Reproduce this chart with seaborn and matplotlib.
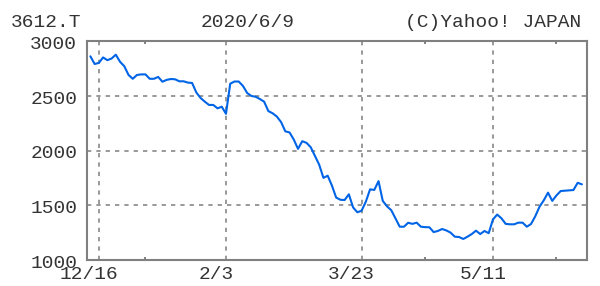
import numpy as np
import pandas as pd
import matplotlib
matplotlib.use("Agg")
import matplotlib.pyplot as plt
import matplotlib.transforms as mtransforms
import seaborn as sns

# ---- data ----
dates = (
    ["12/12", "12/13", "12/16", "12/17", "12/18", "12/19", "12/20", "12/23", "12/24", "12/25",
     "12/26", "12/27", "12/30",
     "1/6", "1/7", "1/8", "1/9", "1/10", "1/14", "1/15", "1/16", "1/17", "1/20", "1/21", "1/22",
     "1/23", "1/24", "1/27", "1/28", "1/29", "1/30", "1/31",
     "2/3", "2/4", "2/5", "2/6", "2/7", "2/10", "2/12", "2/13", "2/14", "2/17", "2/18", "2/19",
     "2/20", "2/21", "2/25", "2/26", "2/27", "2/28",
     "3/2", "3/3", "3/4", "3/5", "3/6", "3/9", "3/10", "3/11", "3/12", "3/13", "3/16", "3/17",
     "3/18", "3/19", "3/23", "3/24", "3/25", "3/26", "3/27", "3/30", "3/31",
     "4/1", "4/2", "4/3", "4/6", "4/7", "4/8", "4/9", "4/10", "4/13", "4/14", "4/15", "4/16",
     "4/17", "4/20", "4/21", "4/22", "4/23", "4/24", "4/27", "4/28", "4/30",
     "5/1", "5/7", "5/8", "5/11", "5/12", "5/13", "5/14", "5/15", "5/18", "5/19", "5/20", "5/21",
     "5/22", "5/25", "5/26", "5/27", "5/28", "5/29",
     "6/1", "6/2", "6/3", "6/4", "6/5", "6/8", "6/9"]
)
close = [
    2860, 2790, 2800, 2850, 2825, 2840, 2875, 2810, 2770, 2690,
    2655, 2690, 2695,
    2695, 2655, 2655, 2672, 2628, 2645, 2653, 2650, 2632, 2632, 2620, 2617,
    2530, 2480, 2446, 2416, 2416, 2385, 2400,
    2335, 2610, 2630, 2630, 2590, 2525, 2498, 2491, 2470, 2446, 2360, 2340,
    2310, 2260, 2175, 2165, 2100, 2015,
    2085, 2070, 2030, 1950, 1870, 1750, 1770, 1680, 1570, 1550, 1548, 1600,
    1480, 1436, 1450, 1532, 1645, 1640, 1720, 1540, 1490,
    1455, 1380, 1304, 1304, 1340, 1330, 1341, 1304, 1300, 1299, 1255, 1265,
    1283, 1270, 1250, 1213, 1210, 1192, 1213, 1237, 1268,
    1237, 1265, 1245, 1370, 1415, 1381, 1330, 1326, 1326, 1341, 1341, 1304,
    1329, 1400, 1487, 1545, 1615, 1540,
    1590, 1630, 1633, 1636, 1639, 1705, 1691,
]
major_labels = ["12/16", "2/3", "3/23", "5/11"]
minor_dates = ["1/6", "4/13", "6/1"]
y_ticks = [1000, 1500, 2000, 2500, 3000]
ticker = "3612.T"
as_of = "2020/6/9"
credit = "(C)Yahoo! JAPAN"

df = pd.DataFrame({"date": dates, "close": close})
df["idx"] = np.arange(len(df))
pos = {d: i for i, d in enumerate(dates)}

sns.set_style("white")
plt.rcParams["font.family"] = ["Liberation Mono", "DejaVu Sans Mono"]

W, H = 600, 286
fig = plt.figure(figsize=(W / 100, H / 100), dpi=100)
ax = fig.add_axes([87 / W, (H - 260) / H, 500 / W, 219 / H])

sns.lineplot(data=df, x="idx", y="close", ax=ax, color="#0064e6", linewidth=1.5)

ax.set_xlim(-0.8, 117.2)
ax.set_ylim(1000, 3000)
ax.set_xlabel("")
ax.set_ylabel("")

grid_kw = dict(color="#999999", linewidth=1.4, linestyle=(0, (2.2, 2.6)), zorder=0)
for d in major_labels:
    ax.axvline(pos[d], **grid_kw)
for v in y_ticks[1:-1]:
    ax.axhline(v, **grid_kw)

ax.set_xticks([pos[d] for d in major_labels])
ax.set_xticklabels(major_labels)
ax.set_xticks([pos[d] for d in minor_dates], minor=True)
ax.tick_params(axis="x", which="major", length=0, pad=4.5, labelsize=14, labelcolor="#333333")
ax.tick_params(axis="x", which="minor", direction="in", length=2.5, width=1.4,
               color="#808080", top=True, bottom=True)
ax.set_yticks(y_ticks)
ax.set_yticklabels([str(v) for v in y_ticks])
ax.tick_params(axis="y", length=0, pad=7, labelsize=14, labelcolor="#333333")

off = mtransforms.ScaledTranslation(-10 / 100, 0, fig.dpi_scale_trans)
for lab in ax.get_xticklabels():
    lab.set_transform(lab.get_transform() + off)
offy = mtransforms.ScaledTranslation(0, -1.5 / 100, fig.dpi_scale_trans)
for lab in ax.get_yticklabels():
    lab.set_transform(lab.get_transform() + offy)

for s in ax.spines.values():
    s.set_visible(True)
    s.set_color("#808080")
    s.set_linewidth(1.5)

tc = "#333333"
fig.text(11 / W, 1 - 27 / H, ticker, fontsize=14, color=tc, va="baseline", ha="left")
fig.text(201 / W, 1 - 27 / H, as_of, fontsize=14, color=tc, va="baseline", ha="left")
fig.text(581 / W, 1 - 27 / H, credit, fontsize=14, color=tc, va="baseline", ha="right")

fig.savefig("out.png", dpi=100, facecolor="white")
